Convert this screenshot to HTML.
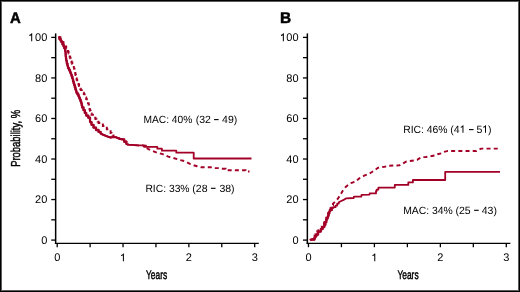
<!DOCTYPE html>
<html><head><meta charset="utf-8"><style>
html,body{margin:0;padding:0;background:#fff;}
.wrap{position:relative;width:520px;height:292px;overflow:hidden;background:#fff;}
.frame{position:absolute;left:0;top:0;width:520px;height:292px;box-sizing:border-box;border:1px solid #000;}
.frame2{position:absolute;left:1px;top:1px;width:518px;height:290px;box-sizing:border-box;border:1px solid #5c5c5c;}
svg{position:absolute;left:0;top:0;will-change:transform;}
text{font-family:"Liberation Sans",sans-serif;fill:#000;text-rendering:geometricPrecision;}
.tk{font-size:11px;}
.one{fill-opacity:0;}
.ann{font-size:10.5px;}
.cond{font-size:12.4px;stroke:#000;stroke-width:0.45px;}
.pl{font-size:15.4px;font-weight:bold;stroke:#000;stroke-width:0.5px;stroke-linejoin:round;}
</style></head><body><div class="wrap">
<svg width="520" height="292" viewBox="0 0 520 292">
<line x1="55.65" y1="33.4" x2="55.65" y2="244.05" stroke="#000" stroke-width="1.5"/>
<line x1="54.9" y1="243.4" x2="258.79" y2="243.4" stroke="#000" stroke-width="1.3"/>
<line x1="51.25" y1="240.10" x2="55.65" y2="240.10" stroke="#000" stroke-width="1.3"/>
<line x1="51.25" y1="219.83" x2="55.65" y2="219.83" stroke="#000" stroke-width="1.3"/>
<line x1="51.25" y1="199.56" x2="55.65" y2="199.56" stroke="#000" stroke-width="1.3"/>
<line x1="51.25" y1="179.29" x2="55.65" y2="179.29" stroke="#000" stroke-width="1.3"/>
<line x1="51.25" y1="159.02" x2="55.65" y2="159.02" stroke="#000" stroke-width="1.3"/>
<line x1="51.25" y1="138.75" x2="55.65" y2="138.75" stroke="#000" stroke-width="1.3"/>
<line x1="51.25" y1="118.48" x2="55.65" y2="118.48" stroke="#000" stroke-width="1.3"/>
<line x1="51.25" y1="98.21" x2="55.65" y2="98.21" stroke="#000" stroke-width="1.3"/>
<line x1="51.25" y1="77.94" x2="55.65" y2="77.94" stroke="#000" stroke-width="1.3"/>
<line x1="51.25" y1="57.67" x2="55.65" y2="57.67" stroke="#000" stroke-width="1.3"/>
<line x1="51.25" y1="37.40" x2="55.65" y2="37.40" stroke="#000" stroke-width="1.3"/>
<line x1="57.20" y1="243.4" x2="57.20" y2="247.2" stroke="#000" stroke-width="1.3"/>
<line x1="90.12" y1="243.4" x2="90.12" y2="247.2" stroke="#000" stroke-width="1.3"/>
<line x1="123.03" y1="243.4" x2="123.03" y2="247.2" stroke="#000" stroke-width="1.3"/>
<line x1="155.94" y1="243.4" x2="155.94" y2="247.2" stroke="#000" stroke-width="1.3"/>
<line x1="188.86" y1="243.4" x2="188.86" y2="247.2" stroke="#000" stroke-width="1.3"/>
<line x1="221.77" y1="243.4" x2="221.77" y2="247.2" stroke="#000" stroke-width="1.3"/>
<line x1="254.69" y1="243.4" x2="254.69" y2="247.2" stroke="#000" stroke-width="1.3"/>
<text x="47.35" y="243.90" text-anchor="end" class="tk">0</text>
<text x="47.35" y="203.36" text-anchor="end" class="tk">20</text>
<text x="47.35" y="162.82" text-anchor="end" class="tk">40</text>
<text x="47.35" y="122.28" text-anchor="end" class="tk">60</text>
<text x="47.35" y="81.74" text-anchor="end" class="tk">80</text>
<text x="47.35" y="41.20" text-anchor="end" class="tk"><tspan class="one">1</tspan>00</text>
<text x="57.20" y="261.3" text-anchor="middle" class="tk">0</text>
<text x="123.03" y="261.3" text-anchor="middle" class="tk"><tspan class="one">1</tspan></text>
<text x="188.86" y="261.3" text-anchor="middle" class="tk">2</text>
<text x="254.69" y="261.3" text-anchor="middle" class="tk">3</text>
<text x="156.6" y="278.8" text-anchor="middle" class="cond" transform="translate(156.6,0) scale(0.68,1) translate(-156.6,0)">Years</text>
<line x1="307.35" y1="33.4" x2="307.35" y2="244.05" stroke="#000" stroke-width="1.5"/>
<line x1="306.6" y1="243.4" x2="510.40" y2="243.4" stroke="#000" stroke-width="1.3"/>
<line x1="302.95" y1="240.10" x2="307.35" y2="240.10" stroke="#000" stroke-width="1.3"/>
<line x1="302.95" y1="219.83" x2="307.35" y2="219.83" stroke="#000" stroke-width="1.3"/>
<line x1="302.95" y1="199.56" x2="307.35" y2="199.56" stroke="#000" stroke-width="1.3"/>
<line x1="302.95" y1="179.29" x2="307.35" y2="179.29" stroke="#000" stroke-width="1.3"/>
<line x1="302.95" y1="159.02" x2="307.35" y2="159.02" stroke="#000" stroke-width="1.3"/>
<line x1="302.95" y1="138.75" x2="307.35" y2="138.75" stroke="#000" stroke-width="1.3"/>
<line x1="302.95" y1="118.48" x2="307.35" y2="118.48" stroke="#000" stroke-width="1.3"/>
<line x1="302.95" y1="98.21" x2="307.35" y2="98.21" stroke="#000" stroke-width="1.3"/>
<line x1="302.95" y1="77.94" x2="307.35" y2="77.94" stroke="#000" stroke-width="1.3"/>
<line x1="302.95" y1="57.67" x2="307.35" y2="57.67" stroke="#000" stroke-width="1.3"/>
<line x1="302.95" y1="37.40" x2="307.35" y2="37.40" stroke="#000" stroke-width="1.3"/>
<line x1="308.45" y1="243.4" x2="308.45" y2="247.2" stroke="#000" stroke-width="1.3"/>
<line x1="341.43" y1="243.4" x2="341.43" y2="247.2" stroke="#000" stroke-width="1.3"/>
<line x1="374.40" y1="243.4" x2="374.40" y2="247.2" stroke="#000" stroke-width="1.3"/>
<line x1="407.38" y1="243.4" x2="407.38" y2="247.2" stroke="#000" stroke-width="1.3"/>
<line x1="440.35" y1="243.4" x2="440.35" y2="247.2" stroke="#000" stroke-width="1.3"/>
<line x1="473.32" y1="243.4" x2="473.32" y2="247.2" stroke="#000" stroke-width="1.3"/>
<line x1="506.30" y1="243.4" x2="506.30" y2="247.2" stroke="#000" stroke-width="1.3"/>
<text x="298.6" y="243.90" text-anchor="end" class="tk">0</text>
<text x="298.6" y="203.36" text-anchor="end" class="tk">20</text>
<text x="298.6" y="162.82" text-anchor="end" class="tk">40</text>
<text x="298.6" y="122.28" text-anchor="end" class="tk">60</text>
<text x="298.6" y="81.74" text-anchor="end" class="tk">80</text>
<text x="298.6" y="41.20" text-anchor="end" class="tk"><tspan class="one">1</tspan>00</text>
<text x="308.45" y="261.3" text-anchor="middle" class="tk">0</text>
<text x="374.40" y="261.3" text-anchor="middle" class="tk"><tspan class="one">1</tspan></text>
<text x="440.35" y="261.3" text-anchor="middle" class="tk">2</text>
<text x="506.30" y="261.3" text-anchor="middle" class="tk">3</text>
<text x="408.0" y="278.8" text-anchor="middle" class="cond" transform="translate(408.0,0) scale(0.68,1) translate(-408.0,0)">Years</text>
<polyline points="58.4,37.2 59.4,37.2 59.4,38.9 60.5,38.9 60.5,40.6 61.5,40.6 61.5,42.3 62.5,42.3 62.5,44.4 63.6,44.4 63.6,46.5 64.3,46.5 64.3,48.2 65.1,48.2 65.1,50.0 65.3,50.0 65.3,51.7 65.6,51.7 65.6,53.4 65.8,56.8 66.0,56.8 66.0,58.5 66.2,58.5 66.2,60.3 66.6,60.3 66.6,62.0 66.9,62.0 66.9,63.7 67.5,63.7 67.5,65.8 68.0,65.8 68.0,68.0 68.9,68.0 68.9,69.7 69.8,69.7 69.8,71.4 70.4,71.4 70.4,73.1 71.1,73.1 71.1,74.8 71.7,74.8 71.7,76.5 72.3,76.5 72.3,78.3 72.8,78.3 72.8,80.0 73.2,80.0 73.2,81.7 73.7,81.7 73.7,83.4 74.2,83.4 74.2,85.1 74.8,85.1 74.8,87.2 75.4,87.2 75.4,89.4 76.0,89.4 76.0,91.1 76.5,91.1 76.5,92.8 77.5,92.8 77.5,94.5 78.5,94.5 78.5,96.3 79.2,96.3 79.2,98.0 79.9,98.0 79.9,99.7 80.6,99.7 80.6,101.4 81.2,101.4 81.2,103.1 81.7,103.1 81.7,105.2 82.1,105.2 82.1,107.4 83.5,107.4 83.5,110.2 84.8,110.2 84.8,112.9 86.2,112.9 86.2,115.6 88.3,115.6 88.3,117.7 90.0,117.7 90.0,120.4 90.2,122.1 91.5,122.1 91.5,124.8 93.5,124.8 93.5,127.6 96.0,127.6 96.0,130.0 98.5,130.0 98.5,131.8 100.6,131.8 100.6,133.4 103.1,134.7 106.2,136.0 108.9,137.0 111.0,137.5 113.0,137.0 115.8,137.2 118.2,138.2 120.1,138.9 122.7,139.4 124.2,139.4 124.2,141.6 126.3,141.6 126.3,143.7 128.3,144.6 133.5,145.0 138.0,145.4 144.0,145.4 144.0,146.8 157.3,146.8 157.3,148.7 161.9,148.7 161.9,150.7 176.3,150.7 176.3,152.7 193.7,152.7 193.7,158.5 251.5,158.5" fill="none" stroke="#a30028" stroke-width="1.8" stroke-linejoin="round"/>
<polyline points="58.4,37.2 59.4,37.2 59.4,38.9 60.5,38.9 60.5,40.6 61.5,40.6 61.5,42.3 62.5,42.3 62.5,44.4 63.6,44.4 63.6,46.5 64.3,46.5 64.3,48.2 65.1,48.2 65.1,50.0 65.3,50.0 65.3,51.7 65.6,51.7 65.6,53.4 65.8,56.8 66.0,56.8 66.0,58.5 66.2,58.5 66.2,60.3 66.6,60.3 66.6,62.0 66.9,62.0 66.9,63.7 67.5,63.7 67.5,65.8 68.0,65.8 68.0,68.0 68.9,68.0 68.9,69.7 69.8,69.7 69.8,71.4 70.4,71.4 70.4,73.1 71.1,73.1 71.1,74.8 71.7,74.8 71.7,76.5 72.3,76.5 72.3,78.3 72.8,78.3 72.8,80.0 73.2,80.0 73.2,81.7 73.7,81.7 73.7,83.4 74.2,83.4 74.2,85.1 74.8,85.1 74.8,87.2 75.4,87.2 75.4,89.4 76.0,89.4 76.0,91.1 76.5,91.1 76.5,92.8 77.5,92.8 77.5,94.5 78.5,94.5 78.5,96.3 79.2,96.3 79.2,98.0 79.9,98.0 79.9,99.7 80.6,99.7 80.6,101.4 81.2,101.4 81.2,103.1 81.7,103.1 81.7,105.2 82.1,105.2 82.1,107.4 83.5,107.4 83.5,110.2 84.8,110.2 84.8,112.9 86.2,112.9 86.2,115.6 88.3,115.6 88.3,117.7 90.0,117.7 90.0,120.4 90.2,122.1 91.5,122.1 91.5,124.8 93.5,124.8 93.5,127.6 96.0,127.6 96.0,130.0 98.5,130.0 98.5,131.8 100.6,131.8 100.6,133.4 103.1,134.7 106.2,136.0 108.9,137.0 111.0,137.5 113.0,137.0 115.8,137.2 118.2,138.2 120.1,138.9 122.7,139.4 124.2,139.4 124.2,141.6 126.3,141.6 126.3,143.7 128.3,144.6" fill="none" stroke="#a30028" stroke-width="2.3" stroke-linejoin="round"/>
<polyline points="310.4,240.2 312.5,239.5 314.5,239.5 314.5,237.6 315.4,237.6 315.4,236.1 316.4,236.1 316.4,234.5 318.1,234.5 318.1,231.6 320.8,231.6 320.8,229.1 322.6,229.1 322.6,227.1 324.3,227.1 324.3,225.0 325.3,225.0 325.3,222.3 326.3,222.3 326.3,219.6 327.1,219.6 327.1,218.0 327.8,218.0 327.8,216.4 328.3,216.4 328.3,214.9 328.8,214.9 328.8,213.4 329.3,213.4 329.3,211.8 329.8,211.8 329.8,210.2 331.6,210.2 331.6,208.3 334.0,207.2" fill="none" stroke="#a30028" stroke-width="2.3" stroke-linejoin="round"/>
<polyline points="59.3,37.2 60.4,37.2 60.4,38.9 61.6,38.9 61.6,40.6 62.7,40.6 62.7,42.3 63.5,42.3 63.5,43.7 64.4,43.7 64.4,45.1 65.2,45.1 65.2,46.5 66.2,46.5 66.2,48.2 67.2,48.2 67.2,50.0 68.0,50.0 68.0,51.7 68.6,51.7 68.6,53.4 69.1,53.4 69.1,55.1 69.7,55.1 69.7,56.8 70.2,56.8 70.2,58.2 70.6,58.2 70.6,59.6 71.0,59.6 71.0,61.1 71.5,61.1 71.5,62.5 72.3,62.5 72.3,64.1 73.0,64.1 73.0,65.7 73.8,65.7 73.8,67.3 74.1,68.7 74.5,68.7 74.5,70.3 74.8,70.3 74.8,71.9 75.2,71.9 75.2,73.5 75.5,73.5 75.5,75.0 75.9,75.0 75.9,76.5 76.2,76.5 76.2,78.1 76.6,78.1 76.6,79.6 77.2,79.6 77.2,81.2 77.9,81.2 77.9,82.9 78.5,82.9 78.5,84.5 79.1,84.5 79.1,85.9 79.7,85.9 79.7,87.3 80.2,87.3 80.2,88.7 80.8,88.7 80.8,90.1 81.8,90.1 81.8,91.4 82.8,91.4 82.8,92.8 83.8,92.8 83.8,94.1 84.6,94.1 84.6,95.7 85.4,95.7 85.4,97.4 86.2,97.4 86.2,99.0 86.8,99.0 86.8,100.4 87.4,100.4 87.4,101.8 88.0,101.8 88.0,103.1 88.6,103.1 88.6,104.5 88.9,104.5 88.9,106.2 89.3,106.2 89.3,107.8 89.6,107.8 89.6,109.5 90.1,109.5 90.1,110.8 90.6,110.8 90.6,112.2 91.1,112.2 91.1,113.5 91.6,113.5 91.6,114.8 92.9,114.8 92.9,116.2 94.2,116.2 94.2,117.7 95.5,117.7 95.5,119.1 96.5,119.1 96.5,120.4 97.6,120.4 97.6,121.6 98.6,121.6 98.6,122.9 100.8,122.9 100.8,124.5 102.9,124.5 102.9,126.0 104.8,126.0 104.8,127.7 106.8,127.7 106.8,129.3 108.7,129.3 108.7,131.1 110.6,131.1 110.6,132.9 111.5,132.9 111.5,134.2 112.5,134.2 112.5,135.5 113.5,135.5 113.5,136.8 115.8,137.2 118.2,138.2 120.1,138.9 122.7,139.4 124.2,139.4 124.2,141.6 126.3,141.6 126.3,143.7 128.3,144.6 133.5,145.0 138.0,145.4 144.0,145.6 145.8,145.6 145.8,147.5 147.5,147.5 147.5,148.7 152.1,150.7 157.0,152.7 162.7,154.1 168.3,156.7 173.1,157.9 179.2,159.8 185.2,161.3 190.4,164.2 197.1,166.3 201.0,167.2 212.0,167.2 214.0,168.1 218.0,168.1 220.0,168.8 224.0,168.8 225.5,168.8 225.5,170.2 244.5,170.2 245.5,170.2 245.5,171.5 249.5,171.5" fill="none" stroke="#a30028" stroke-width="1.95" stroke-dasharray="4 3.2"/>
<polyline points="310.4,240.2 312.5,239.5 314.5,239.5 314.5,237.6 315.4,237.6 315.4,236.1 316.4,236.1 316.4,234.5 318.1,234.5 318.1,231.6 320.8,231.6 320.8,229.1 322.6,229.1 322.6,227.1 324.3,227.1 324.3,225.0 325.3,225.0 325.3,222.3 326.3,222.3 326.3,219.6 327.1,219.6 327.1,218.0 327.8,218.0 327.8,216.4 328.3,216.4 328.3,214.9 328.8,214.9 328.8,213.4 329.3,213.4 329.3,211.8 329.8,211.8 329.8,210.2 331.6,210.2 331.6,208.3 334.0,207.2 335.5,207.2 335.5,205.6 337.2,205.6 337.2,203.6 338.8,203.6 338.8,202.2 341.2,201.0 344.2,199.6 346.0,198.4 353.7,198.0 353.9,196.7 361.3,196.7 361.5,195.1 362.0,194.8 369.5,194.7 369.7,193.4 375.4,193.4 376.0,193.4 376.0,191.0 376.7,191.0 376.7,189.6 378.4,189.6 378.4,187.6 394.8,187.6 394.8,184.9 408.3,184.9 408.3,182.4 412.9,182.4 412.9,180.0 445.2,180.0 445.2,171.9 500.0,171.9" fill="none" stroke="#a30028" stroke-width="1.8" stroke-linejoin="round"/>
<polyline points="309.6,239.9 311.7,239.2 313.7,239.2 313.7,237.3 314.6,237.3 314.6,235.8 315.6,235.8 315.6,234.2 316.4,234.2 316.4,232.8 317.3,232.8 317.3,231.3 318.6,231.3 318.6,230.0 320.0,230.0 320.0,228.8 321.8,228.8 321.8,226.8 323.5,226.8 323.5,224.7 324.0,224.7 324.0,223.3 324.5,223.3 324.5,222.0 325.0,222.0 325.0,220.6 325.5,220.6 325.5,219.3 326.2,219.3 326.2,217.7 327.0,217.7 327.0,216.1 327.5,216.1 327.5,214.6 328.0,214.6 328.0,213.1 328.9,213.1 328.9,211.4 329.7,211.4 329.7,209.7 330.5,209.7 330.5,208.2 331.4,208.2 331.4,206.6 332.2,206.6 332.2,205.1 333.0,205.1 333.0,203.6 335.5,201.5 337.5,199.2 339.9,195.6 342.6,191.0 345.7,187.0 348.0,185.0 351.0,183.1 355.3,181.6 359.4,178.2 364.2,175.7 369.5,173.6 373.8,170.8 377.9,167.8 380.0,167.2 384.4,166.9 388.0,165.7 399.4,165.4 403.0,163.5 406.0,161.7 410.0,161.0 417.1,159.9 419.8,158.1 421.5,157.2 426.0,157.0 434.8,155.5 437.6,154.2 441.4,153.3 443.3,152.0 447.0,151.1 476.5,151.0 478.5,149.8 481.0,148.6 501.0,148.6" fill="none" stroke="#a30028" stroke-width="1.95" stroke-dasharray="4 3.2"/>
<text y="122.8" class="ann"><tspan x="143.46" textLength="48.80" lengthAdjust="spacingAndGlyphs">MAC: 40%</tspan></text>
<text y="122.8" class="ann"><tspan x="195.65">(32</tspan><tspan x="222.08">49)</tspan></text>
<rect x="214.05" y="119.05" width="4.6" height="1.1"/>
<text y="191.5" class="ann"><tspan x="145.40" textLength="44.16" lengthAdjust="spacingAndGlyphs">RIC: 33%</tspan></text>
<text y="191.5" class="ann"><tspan x="192.35">(28</tspan><tspan x="219.38">38)</tspan></text>
<rect x="210.95" y="187.75" width="4.6" height="1.1"/>
<text y="132.8" class="ann"><tspan x="403.15" textLength="44.42" lengthAdjust="spacingAndGlyphs">RIC: 46%</tspan></text>
<text y="132.8" class="ann"><tspan x="450.35">(4<tspan class="one">1</tspan></tspan><tspan x="476.38">5<tspan class="one">1</tspan>)</tspan></text>
<rect x="469.00" y="129.05" width="4.6" height="1.1"/>
<text y="213.5" class="ann"><tspan x="403.15" textLength="49.62" lengthAdjust="spacingAndGlyphs">MAC: 34%</tspan></text>
<text y="213.5" class="ann"><tspan x="455.45">(25</tspan><tspan x="481.78">43)</tspan></text>
<rect x="474.10" y="209.75" width="4.6" height="1.1"/>
<text x="0" y="0" class="pl" transform="translate(9.9,22.75) scale(0.97,1)">A</text>
<text x="0" y="0" class="pl" transform="translate(280.0,22.85) scale(1.0,1)">B</text>
<text transform="translate(20.2,138.35) rotate(-90) scale(0.725,1)" text-anchor="middle" class="cond" style="font-size:13px">Probability, %</text>
<path d="M733,0L543,0L543,1120Q430,1020 203,985L203,1180Q500,1260 616,1466L733,1466Z" transform="translate(28.27,41.20) scale(0.005371,-0.005371)"/>
<path d="M733,0L543,0L543,1120Q430,1020 203,985L203,1180Q500,1260 616,1466L733,1466Z" transform="translate(119.97,261.30) scale(0.005371,-0.005371)"/>
<path d="M733,0L543,0L543,1120Q430,1020 203,985L203,1180Q500,1260 616,1466L733,1466Z" transform="translate(279.93,41.20) scale(0.005371,-0.005371)"/>
<path d="M733,0L543,0L543,1120Q430,1020 203,985L203,1180Q500,1260 616,1466L733,1466Z" transform="translate(371.34,261.30) scale(0.005371,-0.005371)"/>
<path d="M733,0L543,0L543,1120Q430,1020 203,985L203,1180Q500,1260 616,1466L733,1466Z" transform="translate(459.69,132.80) scale(0.005127,-0.005127)"/>
<path d="M733,0L543,0L543,1120Q430,1020 203,985L203,1180Q500,1260 616,1466L733,1466Z" transform="translate(482.22,132.80) scale(0.005127,-0.005127)"/>
</svg>
<div class="frame"></div><div class="frame2"></div>
</div></body></html>
